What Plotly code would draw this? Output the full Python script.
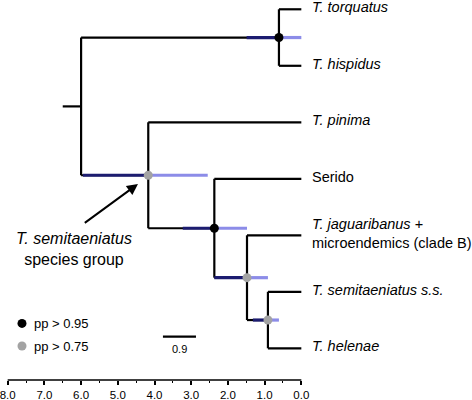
import plotly.graph_objects as go

# ---------------- data ----------------
tip_labels = ["<i>T. torquatus</i>", "<i>T. hispidus</i>", "<i>T. pinima</i>", "Serido",
              "<i>T. jaguaribanus</i> +<br>microendemics (clade B)",
              "<i>T. semitaeniatus s.s.</i>", "<i>T. helenae</i>"]
tip_ids = ["torq", "hisp", "pin", "ser", "cladeB", "semi", "hel"]

node_ids = ["root", "n_th", "n_group", "n_ser", "n_B", "n_sh"]
node_ages = [6.0, 0.61, 4.17, 2.37, 1.48, 0.91]
node_children = [["n_th", "n_group"], ["torq", "hisp"], ["pin", "n_ser"],
                 ["ser", "n_B"], ["cladeB", "n_sh"], ["semi", "hel"]]
node_pp = [None, 0.95, 0.75, 0.95, 0.75, 0.75]
hpd_young = [None, 0.0, 2.55, 1.48, 0.91, 0.61]
hpd_old = [None, 1.49, 5.95, 3.23, 2.37, 1.32]
root_stem_age = 6.5
scale_len = 0.9
x_ticks = [8, 7, 6, 5, 4, 3, 2, 1, 0]

# ---------------- layout / style ----------------
FONT = "Arial, Liberation Sans, sans-serif"
DARK = "#1c1c70"
LIGHT = "#8c8ce8"
GRAY = "#a3a3a3"

# tree geometry
age = {t: 0.0 for t in tip_ids}
ypos = {t: float(i) for i, t in enumerate(tip_ids)}
children = dict(zip(node_ids, node_children))
for nid, a in zip(node_ids, node_ages):
    age[nid] = a


def get_y(n):
    if n in ypos:
        return ypos[n]
    ys = [get_y(c) for c in children[n]]
    ypos[n] = sum(ys) / len(ys)
    return ypos[n]


for nid in node_ids:
    get_y(nid)
parent = {}
for nid in node_ids:
    for c in children[nid]:
        parent[c] = nid

bx, by = [], []
# root stem
bx += [root_stem_age, age["root"], None]
by += [ypos["root"], ypos["root"], None]
for nid in node_ids:
    cy = [ypos[c] for c in children[nid]]
    bx += [age[nid], age[nid], None]
    by += [min(cy), max(cy), None]
    for c in children[nid]:
        bx += [age[nid], age[c], None]
        by += [ypos[c], ypos[c], None]

fig = go.Figure()

# HPD bars: light part (off-branch) and dark part (on branch)
lx, ly, dx, dy = [], [], [], []
for nid, lo, hi in zip(node_ids, hpd_young, hpd_old):
    if lo is None:
        continue
    y = ypos[nid]
    lx += [lo, age[nid], None]
    ly += [y, y, None]
    pa = age[parent[nid]]
    dx += [age[nid], min(hi, pa), None]
    dy += [y, y, None]

fig.add_trace(go.Scatter(x=bx, y=by, mode="lines", line=dict(color="black", width=2.2),
                         hoverinfo="skip", showlegend=False))
fig.add_trace(go.Scatter(x=lx, y=ly, mode="lines", line=dict(color=LIGHT, width=3.2),
                         hoverinfo="skip", showlegend=False))
fig.add_trace(go.Scatter(x=dx, y=dy, mode="lines", line=dict(color=DARK, width=3.2),
                         hoverinfo="skip", showlegend=False))

# node markers
for thr, col in [(0.95, "black"), (0.75, GRAY)]:
    xs = [age[n] for n, p in zip(node_ids, node_pp) if p == thr]
    ys = [ypos[n] for n, p in zip(node_ids, node_pp) if p == thr]
    fig.add_trace(go.Scatter(x=xs, y=ys, mode="markers",
                             marker=dict(color=col, size=9, line=dict(width=0)),
                             cliponaxis=False, showlegend=False))

# manual legend
leg_x = 7.61
leg_y = [5.56, 5.96]
for (thr, col), yy in zip([(0.95, "black"), (0.75, GRAY)], leg_y):
    fig.add_trace(go.Scatter(x=[leg_x], y=[yy], mode="markers",
                             marker=dict(color=col, size=9), cliponaxis=False,
                             showlegend=False, hoverinfo="skip"))
    fig.add_annotation(x=leg_x, y=yy, xref="x", yref="y", text=f"pp &gt; {thr}",
                       showarrow=False, xanchor="left", xshift=10,
                       font=dict(family=FONT, size=13, color="black"))

# scale bar
sb_start = 3.77
sb_y = 5.795
fig.add_trace(go.Scatter(x=[sb_start, sb_start - scale_len], y=[sb_y, sb_y], mode="lines",
                         line=dict(color="black", width=2.2), showlegend=False,
                         hoverinfo="skip"))
fig.add_annotation(x=sb_start - scale_len / 2, y=sb_y, xref="x", yref="y",
                   text=str(scale_len), showarrow=False, yshift=-12,
                   font=dict(family=FONT, size=11, color="black"))

# tip labels
for t, lab in zip(tip_ids, tip_labels):
    fig.add_annotation(x=0, y=ypos[t], xref="x", yref="y", text=lab, showarrow=False,
                       xanchor="left", align="left", xshift=9, yshift=2,
                       font=dict(family=FONT, size=14.5, color="black"))

# species-group annotation with arrow
fig.add_annotation(x=4.45, y=3.092, xref="x", yref="y", ax=5.94, ay=3.80,
                   axref="x", ayref="y", text="", showarrow=True,
                   arrowhead=2, arrowsize=1.1, arrowwidth=2, arrowcolor="black")
fig.add_annotation(x=6.2, y=4.25, xref="x", yref="y",
                   text="<i>T. semitaeniatus</i><br>species group", showarrow=False,
                   align="center", font=dict(family=FONT, size=16, color="black"))

# axis line
fig.add_shape(type="line", xref="x", yref="paper", x0=8, x1=0, y0=0, y1=0,
              line=dict(color="black", width=1.6))

fig.update_layout(
    width=472, height=400,
    margin=dict(l=3.6, r=166.6, t=2, b=20, autoexpand=False),
    paper_bgcolor="white", plot_bgcolor="white",
    xaxis=dict(range=[8.1, -0.1], tickvals=x_ticks,
               ticktext=[f"{v:.1f}" for v in x_ticks],
               ticks="outside", ticklen=4, tickwidth=1.5, tickcolor="black",
               ticklabeloverflow="allow", ticklabelstandoff=0, automargin=False,
               showgrid=False, zeroline=False, showline=False,
               tickfont=dict(family=FONT, size=11.5, color="black"),
               minor=dict(tickvals=[7.5, 6.5, 5.5, 4.5, 3.5, 2.5, 1.5, 0.5],
                          ticks="outside", ticklen=2, tickwidth=1.2,
                          tickcolor="black", showgrid=False)),
    yaxis=dict(range=[6.561, -0.129], visible=False, automargin=False),
    showlegend=False,
)

fig.write_html("out.html", config={"displayModeBar": False},
               post_script="document.body.style.margin='0px';")
